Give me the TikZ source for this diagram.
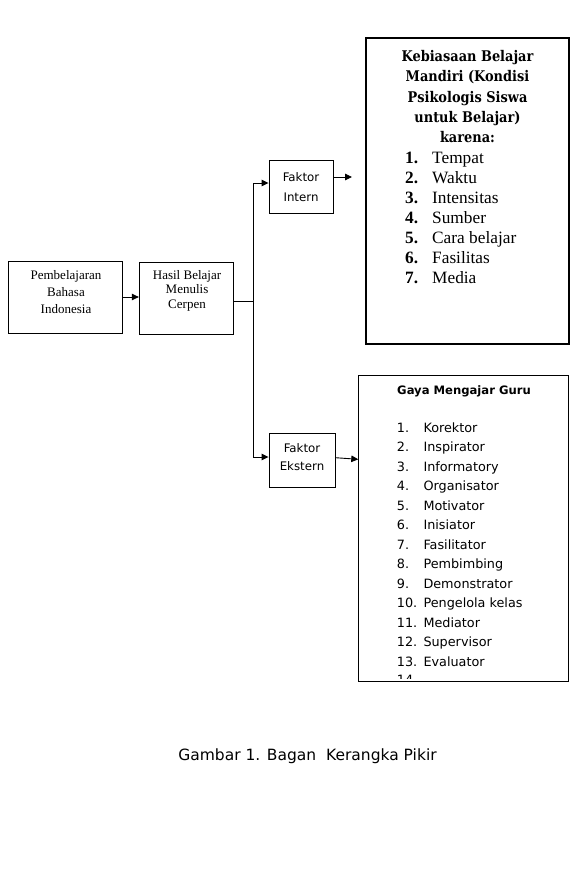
\documentclass[tikz,border=0pt]{standalone}
\usepackage{fontspec}
\setmainfont{Liberation Serif}
\newfontfamily\sansf{DejaVu Sans}
\newfontfamily\headf[FakeStretch=0.88]{DejaVu Serif}
\usetikzlibrary{arrows.meta}
\begin{document}
\begin{tikzpicture}[x=1pt,y=-1pt,
  box/.style={draw, line width=0.9pt, inner sep=0pt},
  thickbox/.style={draw, line width=2pt, inner sep=0pt},
  ln/.style={line width=0.9pt},
  arr/.style={line width=0.9pt, -{Triangle[length=7pt,width=6.5pt]}},
  serif13/.style={font=\fontsize{13}{17}\selectfont, align=center, inner sep=0pt},
  sans11/.style={font=\sansf\fontsize{11.8}{20}\selectfont, align=center, inner sep=0pt},
  listserif/.style={font=\fontsize{17.3}{20}\selectfont, anchor=base west, inner sep=0pt},
  listnum/.style={font=\fontsize{17.3}{20}\selectfont\bfseries, anchor=base west, inner sep=0pt},
  listsans/.style={font=\sansf\fontsize{12.8}{19.5}\selectfont, anchor=base west, inner sep=0pt}
]
\useasboundingbox[fill=white] (0,0) rectangle (577,888);

% boxes
\node[box, minimum width=114pt, minimum height=72pt] (pb) at (65.3,297) {};
\node[box, minimum width=94pt, minimum height=72pt] (hb) at (186.3,298.3) {};
\node[box, minimum width=64pt, minimum height=53pt] (fi) at (301,186.5) {};
\node[box, minimum width=66pt, minimum height=54pt] (fe) at (302,460) {};
\node[thickbox, minimum width=203pt, minimum height=306pt] (kb) at (467.7,191.2) {};
\node[box, minimum width=210pt, minimum height=306.7pt] (gm) at (463.3,528.4) {};

% texts
\node[serif13] (pbt) at (66,292) {Pembelajaran\\Bahasa\\Indonesia};
\node[serif13, font=\fontsize{13}{14.6}\selectfont] (hbt) at (187,290.7) {Hasil Belajar\\Menulis\\Cerpen};
\node[sans11] (fit) at (301,186.7) {Faktor\\Intern};
\node[sans11, font=\sansf\fontsize{11.8}{18}\selectfont] (fet) at (302,457) {Faktor\\Ekstern};

\node[font=\headf\bfseries\fontsize{14.7}{20.3}\selectfont, align=center, inner sep=0pt] (kbt) at (467.5,96.7)
  {Kebiasaan Belajar\\Mandiri (Kondisi\\Psikologis Siswa\\untuk Belajar)\\karena:};
\foreach \t [count=\i] in {Tempat,Waktu,Intensitas,Sumber,Cara belajar,Fasilitas,Media}{
  \node[listnum] (kn\i) at (405,{163.3+20.1*(\i-1)}) {\i.};
  \node[listserif] (kt\i) at (432,{163.3+20.1*(\i-1)}) {\t};
}

\node[font=\sansf\bfseries\fontsize{11.6}{14}\selectfont, inner sep=0pt] (gmt) at (464,391) {Gaya Mengajar Guru};
\foreach \t [count=\i] in {Korektor,Inspirator,Informatory,Organisator,Motivator,Inisiator,Fasilitator,Pembimbing,Demonstrator,Pengelola kelas,Mediator,Supervisor,Evaluator}{
  \node[listsans] (gn\i) at (396.7,{432.3+19.5*(\i-1)}) {\i.};
  \node[listsans] (gt\i) at (423.3,{432.3+19.5*(\i-1)}) {\t};
}
\begin{scope}
  \clip (360,660) rectangle (567,678.5);
  \node[listsans] (gn14) at (396.7,684.5) {14.};
\end{scope}

\node[font=\sansf\fontsize{15.5}{18}\selectfont, inner sep=0pt] (cap) at (307.5,756) {Gambar 1. Bagan~ Kerangka Pikir};

% connectors
\coordinate (jt) at (253.3,183);
\coordinate (jb) at (253.3,457);
\coordinate (io) at (352,177);
\coordinate (ge) at (358.3,459.3);
\draw[arr] (pb.east) -- (pb.east -| hb.west);
\draw[ln] (hb.east |- 0,301) -- (jt |- 0,301);
\draw[ln] (jt) -- (jb);
\draw[arr] (jt) -- (jt -| fi.west);
\draw[arr] (jb) -- (jb -| fe.west);
\draw[arr] (fi.east |- io) -- (io);
\draw[arr] (fe.east |- 0,457.7) -- (ge);
\end{tikzpicture}
\end{document}
